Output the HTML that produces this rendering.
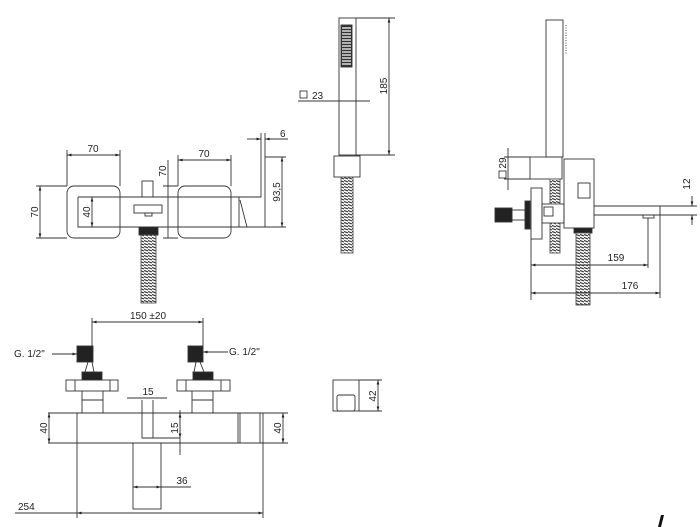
<!DOCTYPE html>
<html><head><meta charset="utf-8"><style>
html,body{margin:0;padding:0;background:#fff}
svg{display:block}
text{font-family:"Liberation Sans",sans-serif;font-size:10px;fill:#222}
</style></head><body>
<svg width="700" height="527" viewBox="0 0 700 527" xmlns="http://www.w3.org/2000/svg">
<defs>
<marker id="a" viewBox="0 0 10 10" refX="10" refY="5" markerWidth="5" markerHeight="5" orient="auto-start-reverse"><path d="M0,2 L10,5 L0,8z" fill="#222"/></marker>
<pattern id="hose" width="4" height="3" patternUnits="userSpaceOnUse"><rect width="4" height="3" fill="#fff"/><path d="M0,0.5 L4,2" stroke="#333" stroke-width="1.2"/></pattern>
</defs>
<g fill="none" stroke="#333" stroke-width="0.9">
<!-- FRONT TOP VIEW -->
<rect x="67" y="186" width="53" height="52" rx="7"/>
<rect x="178" y="186" width="53" height="52" rx="7"/>
<path d="M78,197 H261 V137 M78,197 V227 H239 V197 M265,137 V227 M239,227 H247 L240,200 M265,157 H286 M247,227 H286"/>
<rect x="142" y="181" width="11" height="16"/>
<rect x="134" y="205" width="28" height="8"/>
<rect x="145" y="213" width="7" height="3"/>
<rect x="139" y="227" width="19" height="8" fill="#222"/>
<rect x="141" y="235" width="15" height="68" fill="url(#hose)" stroke="#555"/>
<path d="M67,150 V186 M120,150 V186 M178,155 V186 M231,155 V186 M36,186 H67 M36,238 H67 M88,197 H97 M88,227 H97 M163,186 H178 M163,238 H178 M261,133 V137 M265,133 V137"/>
<line x1="67" y1="155" x2="120" y2="155" marker-start="url(#a)" marker-end="url(#a)"/>
<line x1="178" y1="160" x2="231" y2="160" marker-start="url(#a)" marker-end="url(#a)"/>
<line x1="40" y1="186" x2="40" y2="238" marker-start="url(#a)" marker-end="url(#a)"/>
<line x1="92" y1="197" x2="92" y2="227" marker-start="url(#a)" marker-end="url(#a)"/>
<line x1="168" y1="160" x2="168" y2="238"/>
<line x1="282" y1="157" x2="282" y2="227" marker-start="url(#a)" marker-end="url(#a)"/>
<line x1="247" y1="139" x2="261" y2="139" marker-end="url(#a)"/>
<line x1="288" y1="139" x2="265" y2="139" marker-end="url(#a)"/>
<!-- HAND SHOWER -->
<rect x="339" y="18" width="17" height="137"/>
<rect x="341" y="25" width="11" height="42" fill="#333"/>
<path d="M342,28 H351 M342,31 H351 M342,34 H351 M342,37 H351 M342,40 H351 M342,43 H351 M342,46 H351 M342,49 H351 M342,52 H351 M342,55 H351 M342,58 H351 M342,61 H351 M342,64 H351" stroke="#fff" stroke-width="1.2"/>
<rect x="334" y="156" width="26" height="21"/>
<rect x="341" y="177" width="12" height="76" fill="url(#hose)" stroke="#555"/>
<path d="M356,18 H395 M356,155 H395 M298,101 H370"/>
<line x1="389" y1="18" x2="389" y2="155" marker-start="url(#a)" marker-end="url(#a)"/>
<!-- SIDE VIEW -->
<rect x="546" y="20" width="17" height="137"/>
<path d="M566,25 V55" stroke-dasharray="1 1.5"/>
<rect x="530" y="157" width="32" height="22"/>
<rect x="564" y="159" width="30" height="69"/>
<rect x="578" y="183" width="12" height="15"/>
<path d="M594,206 H660 V215 H594 M660,215 H697 M660,206 H697"/>
<rect x="643" y="215" width="11" height="3"/>
<rect x="531" y="188" width="11" height="51"/>
<rect x="542" y="204" width="22" height="19"/>
<rect x="544" y="207" width="9" height="9"/>
<rect x="495" y="208" width="17" height="14" fill="#222"/>
<rect x="512" y="210" width="13" height="10"/>
<rect x="525" y="201" width="5" height="28" fill="#222"/>
<rect x="550" y="179" width="10" height="25" fill="url(#hose)" stroke="#555"/>
<rect x="550" y="223" width="10" height="30" fill="url(#hose)" stroke="#555"/>
<rect x="574" y="228" width="18" height="5" fill="#222"/>
<rect x="576" y="233" width="14" height="72" fill="url(#hose)" stroke="#555"/>
<path d="M531,239 V300 M648,218 V268 M660,215 V298 M504,157 H530 M504,179 H530"/>
<line x1="531" y1="265" x2="648" y2="265" marker-start="url(#a)" marker-end="url(#a)"/>
<line x1="531" y1="293" x2="660" y2="293" marker-start="url(#a)" marker-end="url(#a)"/>
<line x1="692" y1="196" x2="692" y2="206" marker-end="url(#a)"/>
<line x1="692" y1="225" x2="692" y2="215" marker-end="url(#a)"/>
<line x1="508" y1="148" x2="508" y2="190"/>
<!-- BOTTOM FRONT VIEW -->
<path d="M77,413 H263 V443 H77 Z M238,413 V443 M240,413 V443 M260,413 V443 M48,413 H77 M48,443 H77 M263,413 H288 M263,443 H288"/>
<path d="M142,400 V438 H180 M153,400 V438 M180,410 V455 M127,398 H167"/>
<rect x="133" y="443" width="28" height="66"/>
<path d="M161,487 H191 M77,443 V518 M263,443 V518 M15,513 H77"/>
<line x1="133" y1="487" x2="161" y2="487" marker-start="url(#a)" marker-end="url(#a)"/>
<line x1="77" y1="513" x2="263" y2="513" marker-start="url(#a)" marker-end="url(#a)"/>
<line x1="49" y1="413" x2="49" y2="443" marker-start="url(#a)" marker-end="url(#a)"/>
<line x1="283" y1="413" x2="283" y2="443" marker-start="url(#a)" marker-end="url(#a)"/>
<line x1="180" y1="413" x2="180" y2="438" marker-start="url(#a)" marker-end="url(#a)"/>
<!-- valves -->
<rect x="66" y="380" width="52" height="11"/><path d="M75,380 V391 M110,380 V391"/>
<path d="M82,391 V413 M103,391 V413 M82,400 H103 M88,362 L85,372 M92,362 L94,372"/>
<rect x="82" y="372" width="20" height="8" fill="#222"/>
<rect x="77" y="346" width="16" height="16" fill="#222"/>
<rect x="177" y="380" width="53" height="11"/><path d="M186,380 V391 M221,380 V391"/>
<path d="M192,391 V413 M213,391 V413 M192,400 H213 M196,362 L194,372 M200,362 L204,372"/>
<rect x="193" y="372" width="20" height="8" fill="#222"/>
<rect x="188" y="346" width="15" height="16" fill="#222"/>
<path d="M92,318 V346 M203,318 V346"/>
<line x1="92" y1="322" x2="203" y2="322" marker-start="url(#a)" marker-end="url(#a)"/>
<line x1="52" y1="354" x2="77" y2="354" marker-end="url(#a)"/>
<line x1="228" y1="352" x2="203" y2="352" marker-end="url(#a)"/>
<!-- bracket -->
<rect x="333" y="380" width="26" height="31"/>
<rect x="337" y="395" width="18" height="16" rx="2"/>
<path d="M359,380 H382 M359,411 H382"/>
<line x1="378" y1="380" x2="378" y2="411" marker-start="url(#a)" marker-end="url(#a)"/>
</g>
<path d="M658,527 L661,515 H664 L661,527Z" fill="#111"/>
<!-- texts -->
<text x="93" y="152" text-anchor="middle">70</text>
<text x="204" y="157" text-anchor="middle">70</text>
<text transform="translate(38,212) rotate(-90)" text-anchor="middle">70</text>
<text transform="translate(90,212) rotate(-90)" text-anchor="middle">40</text>
<text transform="translate(166,171) rotate(-90)" text-anchor="middle">70</text>
<text transform="translate(280,192) rotate(-90)" text-anchor="middle">93,5</text>
<text x="280" y="137">6</text>
<text transform="translate(387,86) rotate(-90)" text-anchor="middle">185</text>
<rect x="300" y="91" width="7" height="7" fill="none" stroke="#222" stroke-width="0.8"/>
<text x="312" y="99">23</text>
<rect x="499" y="171" width="7" height="7" fill="none" stroke="#222" stroke-width="0.8"/>
<text transform="translate(506,163) rotate(-90)" text-anchor="middle">29</text>
<text transform="translate(690,184) rotate(-90)" text-anchor="middle">12</text>
<text x="616" y="261" text-anchor="middle">159</text>
<text x="630" y="289" text-anchor="middle">176</text>
<text x="148" y="319" text-anchor="middle">150  ±20</text>
<text x="14" y="357">G. 1/2"</text>
<text x="229" y="355">G. 1/2"</text>
<text x="148" y="395" text-anchor="middle">15</text>
<text transform="translate(178,428) rotate(-90)" text-anchor="middle">15</text>
<text transform="translate(47,428) rotate(-90)" text-anchor="middle">40</text>
<text transform="translate(281,428) rotate(-90)" text-anchor="middle">40</text>
<text x="182" y="484" text-anchor="middle">36</text>
<text x="18" y="510">254</text>
<text transform="translate(376,396) rotate(-90)" text-anchor="middle">42</text>
</svg>
</body></html>
